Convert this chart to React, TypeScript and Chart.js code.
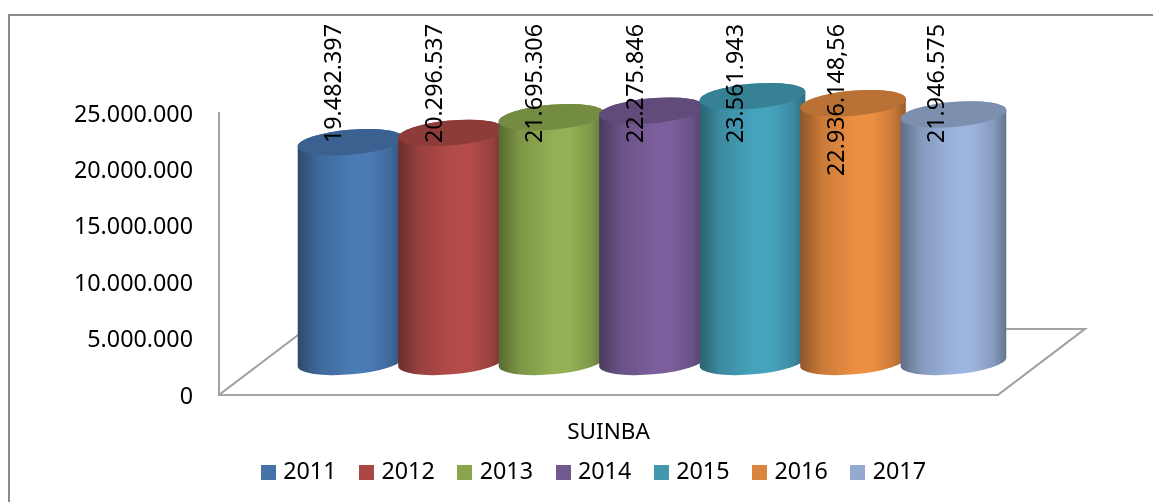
import React, { useEffect, useRef } from "react";
import { Chart, registerables } from "chart.js";

Chart.register(...registerables);

const categories = ["SUINBA"];
const years = ["2011", "2012", "2013", "2014", "2015", "2016", "2017"];
const values = [19482397, 20296537, 21695306, 22275846, 23561943, 22936148.56, 21946575];
const valueLabels = ["19.482.397", "20.296.537", "21.695.306", "22.275.846", "23.561.943", "22.936.148,56", "21.946.575"];
const colors = ["#4572A7", "#AA4643", "#89A54E", "#71588F", "#4198AF", "#DB843D", "#93A9CF"];
const highlights = ["#4A7BB5", "#B34C49", "#93B054", "#7B5F9C", "#46A3BD", "#EC8F43", "#9DB5DE"];

const FONT = '"Noto Sans", "Open Sans", sans-serif';
const DEPTH_X = 87;
const DEPTH_Y = 66;
const GRAY = "#A3A3A3";

function mix(hex: string, target: number, t: number) {
  const n = parseInt(hex.slice(1), 16);
  const c = [(n >> 16) & 255, (n >> 8) & 255, n & 255].map((v) => Math.round(v + (target - v) * t));
  return `rgb(${c[0]},${c[1]},${c[2]})`;
}

function swatch(color: string) {
  const c = document.createElement("canvas");
  c.width = 15;
  c.height = 15;
  const x = c.getContext("2d")!;
  x.fillStyle = color;
  x.fillRect(0, 0, 15, 15);
  return c;
}

const cylinders = {
  id: "cylinders",
  beforeDraw(chart: any) {
    const { ctx, width, height } = chart;
    chart.legend.left = 193;
    chart.legend.right = 998;
    chart.scales.x.bottom = 450;
    ctx.save();
    ctx.fillStyle = "#fff";
    ctx.fillRect(0, 0, width, height);
    ctx.strokeStyle = "#8A8A8A";
    ctx.lineWidth = 2;
    ctx.beginPath();
    ctx.moveTo(9, height);
    ctx.lineTo(9, 15);
    ctx.lineTo(width, 15);
    ctx.stroke();
    ctx.restore();
  },
  beforeDatasetDraw() {
    return false;
  },
  beforeDatasetsDraw(chart: any) {
    const { ctx, chartArea: a } = chart;
    ctx.save();
    ctx.strokeStyle = GRAY;
    ctx.lineWidth = 2;
    ctx.beginPath();
    ctx.moveTo(a.left, a.bottom);
    ctx.lineTo(a.left + DEPTH_X, a.bottom - DEPTH_Y);
    ctx.lineTo(a.right + DEPTH_X, a.bottom - DEPTH_Y);
    ctx.lineTo(a.right, a.bottom);
    ctx.stroke();
    ctx.restore();

    const rot = -0.085;
    const rx = 53;
    const ry = 12.5;
    const ox = Math.cos(rot) * rx;
    const oy = Math.sin(rot) * rx;
    values.forEach((_, i) => {
      const el = chart.getDatasetMeta(i).data[0];
      if (!el) return;
      const cx = el.x + DEPTH_X / 2;
      const top = el.y - DEPTH_Y / 2;
      const base = el.base - DEPTH_Y / 2;
      const col = highlights[i];
      const g = ctx.createLinearGradient(cx - rx, 0, cx + rx, 0);
      g.addColorStop(0, mix(col, 0, 0.4));
      g.addColorStop(0.2, mix(col, 0, 0.15));
      g.addColorStop(0.52, col);
      g.addColorStop(0.68, col);
      g.addColorStop(0.88, mix(col, 0, 0.15));
      g.addColorStop(1, mix(col, 0, 0.36));
      ctx.save();
      ctx.fillStyle = g;
      ctx.beginPath();
      ctx.ellipse(cx, base, rx, ry, rot, 0, Math.PI);
      ctx.lineTo(cx - ox, top - oy);
      ctx.lineTo(cx + ox, top + oy);
      ctx.closePath();
      ctx.fill();
      ctx.beginPath();
      ctx.ellipse(cx, top, rx, ry, rot, 0, Math.PI * 2);
      ctx.fill();
      ctx.fillStyle = mix(col, 0, 0.21);
      ctx.beginPath();
      ctx.ellipse(cx, top, rx, ry, rot, 0, Math.PI * 2);
      ctx.fill();
      ctx.restore();
    });
  },
  afterDatasetsDraw(chart: any) {
    const { ctx } = chart;
    ctx.save();
    ctx.fillStyle = "#000";
    ctx.font = `23.3px ${FONT}`;
    ctx.textAlign = "right";
    ctx.textBaseline = "middle";
    values.forEach((_, i) => {
      const el = chart.getDatasetMeta(i).data[0];
      if (!el) return;
      ctx.save();
      ctx.translate(el.x + 27.5, 24);
      ctx.rotate(-Math.PI / 2);
      ctx.fillText(valueLabels[i], 0, 0);
      ctx.restore();
    });
    ctx.restore();
  },
};

export default function App() {
  const ref = useRef<HTMLCanvasElement>(null);
  useEffect(() => {
    document.body.style.margin = "0";
    const chart = new Chart(ref.current!, {
      type: "bar",
      data: {
        labels: categories,
        datasets: years.map((y, i) => ({
          label: y,
          data: [values[i]],
          backgroundColor: colors[i],
          borderWidth: 0,
          categoryPercentage: 0.903,
          barPercentage: 1,
        })),
      },
      options: {
        responsive: false,
        animation: false,
        devicePixelRatio: 1,
        layout: { padding: { left: 20, right: 155, top: 113, bottom: 8 } },
        plugins: {
          tooltip: { enabled: false },
          legend: {
            position: "bottom",
            labels: {
              usePointStyle: true,
              boxHeight: 15,
              pointStyleWidth: 6.5,
              padding: 26.8,
              color: "#000",
              font: { family: FONT, size: 23.3 },
              generateLabels: (chart: any) =>
                Chart.defaults.plugins.legend.labels
                  .generateLabels(chart)
                  .map((item: any, i: number) => ({ ...item, pointStyle: swatch(colors[i]) })),
            },
          },
        },
        scales: {
          x: {
            grid: { display: false },
            border: { display: true, color: GRAY, width: 2 },
            ticks: { color: "#000", font: { family: FONT, size: 22.5 }, padding: 16 },
            afterFit: (s: any) => {
              s.height = 39;
            },
          },
          y: {
            min: 0,
            max: 25000000,
            grid: { display: false },
            border: { display: true, color: GRAY, width: 2 },
            ticks: {
              stepSize: 5000000,
              color: "#000",
              font: { family: FONT, size: 23.3 },
              padding: 18,
              labelOffset: 2,
              callback: (v: any) => String(v).replace(/\B(?=(\d{3})+$)/g, "."),
            },
            afterFit: (s: any) => {
              s.width = 199;
            },
          },
        },
      },
      plugins: [cylinders],
    } as any);
    return () => chart.destroy();
  }, []);
  return <canvas ref={ref} width={1153} height={502} style={{ display: "block" }} />;
}
